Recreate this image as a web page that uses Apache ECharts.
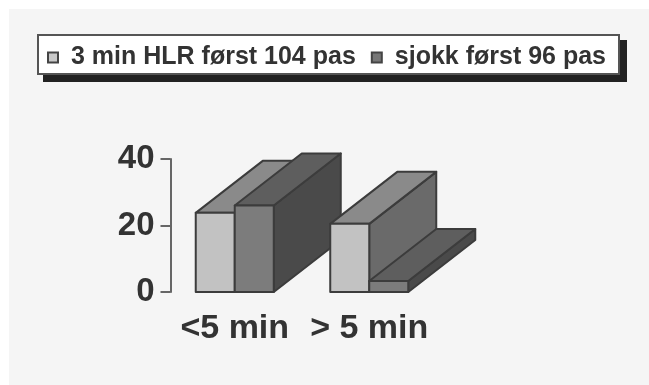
<!DOCTYPE html>
<html>
<head>
<meta charset="utf-8">
<script src="https://cdn.jsdelivr.net/npm/echarts@6/dist/echarts.min.js"></script>
<style>
  html, body { margin: 0; padding: 0; background: #f5f5f5; }
  #chart { width: 649px; height: 385px; filter: blur(0.7px); }
</style>
</head>
<body>
<div id="chart"></div>
<script>
const categories = ["<5 min", "> 5 min"];
const hlrFirst = [23.8, 20.5];
const shockFirst = [26, 3.3];
const yTicks = [0, 20, 40];

// depth of the fake 3d box, in px
const depthX = 67;
const depthY = -52;

function box(front, top, side) {
  return function (params, api) {
    const cat = api.value(0);
    const base = api.coord([cat, 0]);
    const head = api.coord([cat, api.value(1)]);
    const w = api.size([1, 0])[0] * 0.29;
    // first series sits left of the category centre, second right of it
    const x0 = params.seriesIndex === 0 ? base[0] - w : base[0];
    const x1 = x0 + w;
    const stroke = { stroke: "#3c3c3c", lineWidth: 2, lineJoin: "round" };
    // nearer category has to paint over the back of the one before it
    const z2 = cat * 10 + params.seriesIndex;
    return {
      type: "group",
      children: [
        {
          type: "polygon",
          z2: z2,
          shape: { points: [[x1, base[1]], [x1 + depthX, base[1] + depthY], [x1 + depthX, head[1] + depthY], [x1, head[1]]] },
          style: Object.assign({ fill: side }, stroke)
        },
        {
          type: "polygon",
          z2: z2,
          shape: { points: [[x0, head[1]], [x0 + depthX, head[1] + depthY], [x1 + depthX, head[1] + depthY], [x1, head[1]]] },
          style: Object.assign({ fill: top }, stroke)
        },
        {
          type: "rect",
          z2: z2,
          shape: { x: x0, y: head[1], width: w, height: base[1] - head[1] },
          style: Object.assign({ fill: front }, stroke)
        }
      ]
    };
  };
}

const chart = echarts.init(document.getElementById("chart"));
chart.setOption({
  backgroundColor: "#f5f5f5",
  animation: false,
  textStyle: { fontFamily: "Liberation Sans" },
  graphic: [
    // white margin of the scan, top and left
    { type: "rect", z: -10, shape: { x: 0, y: 0, width: 649, height: 9 }, style: { fill: "#fff" } },
    { type: "rect", z: -10, shape: { x: 0, y: 0, width: 9, height: 385 }, style: { fill: "#fff" } },
    // legend frame with its hard shadow
    { type: "rect", z: -5, shape: { x: 43, y: 40, width: 584, height: 42 }, style: { fill: "#222" } },
    { type: "rect", z: -4, shape: { x: 38, y: 35, width: 581, height: 39 }, style: { fill: "#fff", stroke: "#555", lineWidth: 2 } }
  ],
  legend: {
    left: 47,
    top: 45,
    itemWidth: 10,
    itemHeight: 10,
    itemGap: 15,
    padding: 0,
    textStyle: { fontSize: 25, fontWeight: "bold", color: "#333", padding: [0, 0, 0, 8] },
    data: [
      { name: "3 min HLR først 104 pas", icon: "rect", itemStyle: { color: "#c8c8c8", borderColor: "#444", borderWidth: 2 } },
      { name: "sjokk først 96 pas", icon: "rect", itemStyle: { color: "#777", borderColor: "#444", borderWidth: 2 } }
    ]
  },
  grid: { left: 167.5, width: 269, top: 159, height: 133 },
  xAxis: {
    type: "category",
    data: categories,
    axisLine: { show: false },
    axisTick: { show: false },
    axisLabel: { fontSize: 34, fontWeight: "bold", color: "#333", margin: 20, interval: 0 }
  },
  yAxis: {
    type: "value",
    min: yTicks[0],
    max: yTicks[2],
    interval: 20,
    offset: -3,
    splitLine: { show: false },
    axisLine: { show: true, lineStyle: { color: "#666", width: 2 } },
    axisTick: { show: true, length: 10, lineStyle: { color: "#666", width: 2 } },
    axisLabel: { fontSize: 33, fontWeight: "bold", color: "#333", margin: 16, verticalAlignMaxLabel: "middle", verticalAlignMinLabel: "middle" }
  },
  series: [
    {
      type: "custom",
      name: "3 min HLR først 104 pas",
      renderItem: box("#c2c2c2", "#8a8a8a", "#6a6a6a"),
      encode: { x: 0, y: 1 },
      data: hlrFirst.map((v, i) => [i, v])
    },
    {
      type: "custom",
      name: "sjokk først 96 pas",
      renderItem: box("#7c7c7c", "#5e5e5e", "#4a4a4a"),
      encode: { x: 0, y: 1 },
      data: shockFirst.map((v, i) => [i, v])
    }
  ]
});
</script>
</body>
</html>
